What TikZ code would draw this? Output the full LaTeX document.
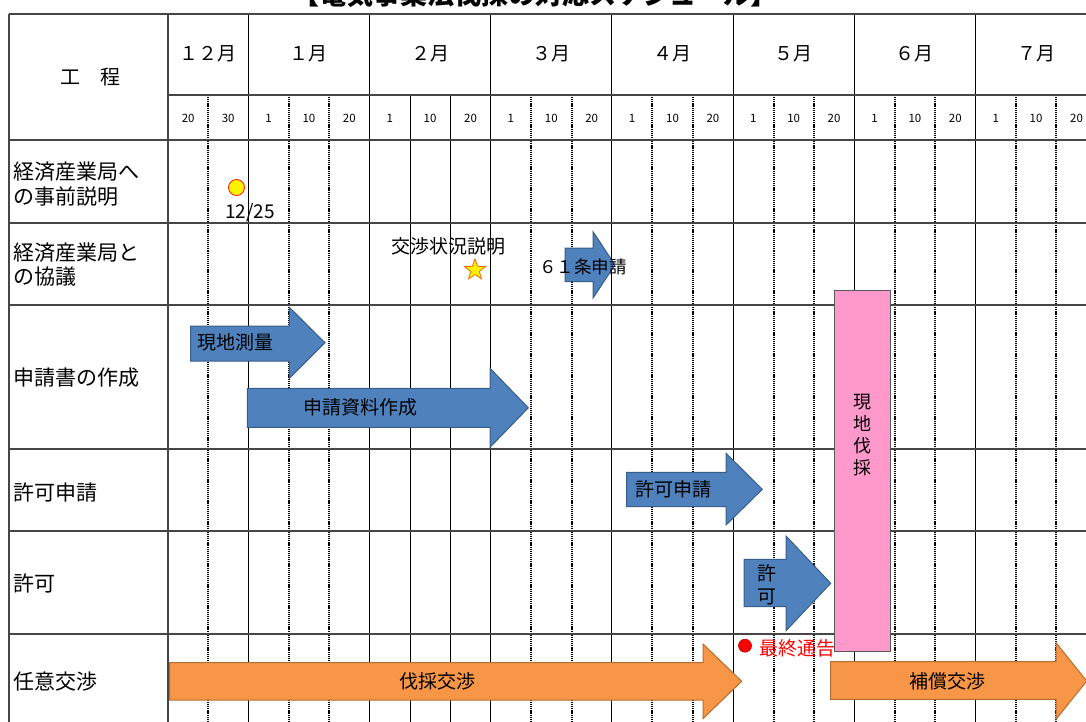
\documentclass[tikz,border=0pt]{standalone}
\usepackage{fontspec}
\setmainfont{Noto Sans CJK JP}
\usetikzlibrary{shapes.geometric}
\definecolor{arrblue}{RGB}{79,129,189}
\definecolor{arrblueline}{RGB}{56,93,138}
\definecolor{arrorange}{RGB}{247,150,70}
\definecolor{arrorangeline}{RGB}{182,109,49}
\definecolor{barpink}{RGB}{255,153,204}
\definecolor{gridgray}{RGB}{70,70,70}
\begin{document}
\begin{tikzpicture}[x=1pt,y=-1pt,
  frame/.style={line width=1.1pt, draw=gridgray},
  monthline/.style={line width=0.9pt, draw=black},
  solidday/.style={line width=0.8pt, draw=black},
  dotday/.style={line width=2pt, draw=black, dash pattern=on 1.2pt off 0.9pt},
  hdr/.style={inner sep=0pt, font=\fontsize{19}{22}\selectfont},
  daylbl/.style={inner sep=0pt, font=\fontsize{11.5}{13}\selectfont},
  lbl/.style={inner sep=0pt, anchor=west, align=left, font=\fontsize{21}{24.5}\selectfont},
  txt/.style={inner sep=0pt, font=\fontsize{19}{22}\selectfont},
  bluearrow/.style={fill=arrblue, draw=arrblueline, line width=1pt, line join=miter},
  orangearrow/.style={fill=arrorange, draw=arrorangeline, line width=1pt, line join=miter}]
\useasboundingbox (0,0) rectangle (1086,722);

% title (cut off at top, as in the reference)
\node[anchor=base, inner sep=0pt, font=\fontsize{27}{30}\selectfont\bfseries] (title) at (535,5) {【電気事業法伐採の対応スケジュール】};

% ---- grid ----
\foreach \x in {208.3,288.7,329.1,531.1,571.5,652.3,692.7,773.5,813.9,894.7,935.1,1015.9,1056.3}
  \draw[dotday] (\x,95) -- (\x,722);
\foreach \x in {409.9,450.3}
  \draw[solidday] (\x,95) -- (\x,722);
\foreach \x in {248.3,369.5,490.7,611.9,733.1,854.3,975.5}
  \draw[monthline] (\x,14) -- (\x,722);
\draw[frame] (168,95) -- (1086,95);
\foreach \y in {140,223,305,449,531,634}
  \draw[frame] (9,\y) -- (1086,\y);
\draw[frame] (9,14) -- (1086,14);
\draw[frame] (9,14) -- (9,722);
\draw[frame] (168,14) -- (168,722);

% ---- header ----
\node[inner sep=0pt, font=\fontsize{20}{24}\selectfont] (koutei) at (90,77) {工　程};
\node[hdr] (m12) at (208,54) {１２月};
\node[hdr] (m1) at (308.9,54) {１月};
\node[hdr] (m2) at (430.1,54) {２月};
\node[hdr] (m3) at (551.3,54) {３月};
\node[hdr] (m4) at (672.5,54) {４月};
\node[hdr] (m5) at (793.7,54) {５月};
\node[hdr] (m6) at (914.9,54) {６月};
\node[hdr] (m7) at (1036.1,54) {７月};
\node[daylbl] (d12a) at (188.2,118) {20};
\node[daylbl] (d12b) at (228.2,118) {30};
\foreach \m [count=\i] in {248.3,369.5,490.7,611.9,733.1,854.3,975.5} {
  \node[daylbl] (da\i) at (\m+20.2,118) {1};
  \node[daylbl] (db\i) at (\m+60.6,118) {10};
  \node[daylbl] (dc\i) at (\m+101,118) {20};
}

% ---- row labels ----
\node[lbl] (r1) at (13,184.2) {経済産業局へ\\の事前説明};
\node[lbl] (r2) at (13,264.6) {経済産業局と\\の協議};
\node[lbl] (r3) at (13,378) {申請書の作成};
\node[lbl] (r4) at (13,492) {許可申請};
\node[lbl] (r5) at (13,583) {許可};
\node[lbl] (r6) at (13,682) {任意交渉};

% ---- row 1 ----
\node[circle, fill=yellow, draw=red!85!orange, line width=0.8pt, minimum size=16pt, inner sep=0pt] (dot1225) at (236.5,187.5) {};
\node[txt] (t1225) at (250,212.7) {12/25};

% ---- row 2 ----
\node[txt] (kousho) at (448,246.7) {交渉状況説明};
\node[star, star points=5, star point ratio=2.4, fill=yellow, draw=orange!80!red, line width=0.8pt, minimum size=22pt, inner sep=0pt] (star1) at (475,270) {};
\draw[bluearrow] (565,248) -- (593,248) -- (593,231.7) -- (615,264.9) -- (593,298) -- (593,281.7) -- (565,281.7) -- cycle;
\node[txt, font=\fontsize{17.5}{20}\selectfont] (art61) at (583,266.7) {６１条申請};

% ---- row 3 ----
\draw[bluearrow] (190.7,326) -- (289.3,326) -- (289.3,307.3) -- (325,342.7) -- (289.3,378.3) -- (289.3,361) -- (190.7,361) -- cycle;
\node[txt, anchor=west] (sokuryo) at (197,342.7) {現地測量};
\draw[bluearrow] (247.3,388.3) -- (490,388.3) -- (490,368.3) -- (528.3,407.8) -- (490,447.3) -- (490,427.3) -- (247.3,427.3) -- cycle;
\node[txt] (shiryo) at (360.8,407.8) {申請資料作成};

% ---- row 4 ----
\draw[bluearrow] (626.7,472.3) -- (726,472.3) -- (726,453.3) -- (762.3,489.3) -- (726,525) -- (726,506.7) -- (626.7,506.7) -- cycle;
\node[txt, anchor=west] (kyokashinsei) at (635,489.3) {許可申請};

% ---- row 5 ----
\draw[bluearrow] (744,559.3) -- (786,559.3) -- (786,536) -- (830.7,583.3) -- (786,630.7) -- (786,606.7) -- (744,606.7) -- cycle;
\node[txt, align=center, font=\fontsize{19}{23}\selectfont] (kyoka) at (767,584.5) {許\\可};

% ---- pink bar ----
\draw[fill=barpink, draw=gray!70!black, line width=1pt] (834,290.7) rectangle (890,651.7);
\node[txt, align=center, font=\fontsize{18}{22.2}\selectfont] (bassai) at (862,435) {現\\地\\伐\\採};

% ---- row 6 ----
\node[circle, fill=red, draw=red!70!black, line width=0.6pt, minimum size=13pt, inner sep=0pt] (reddot) at (745,645.7) {};
\node[txt, anchor=west, text=red] (saishu) at (759,648) {最終通告};
\draw[orangearrow] (169.5,662.7) -- (703,662.7) -- (703,644) -- (741.7,681.3) -- (703,718.6) -- (703,700) -- (169.5,700) -- cycle;
\node[txt] (bassaikousho) at (437,681.3) {伐採交渉};
\draw[orangearrow] (830.7,661.7) -- (1056,661.7) -- (1056,642.7) -- (1086.7,681) -- (1056,719.3) -- (1056,699.3) -- (830.7,699.3) -- cycle;
\node[txt] (hoshou) at (947,681) {補償交渉};
\end{tikzpicture}
\end{document}
